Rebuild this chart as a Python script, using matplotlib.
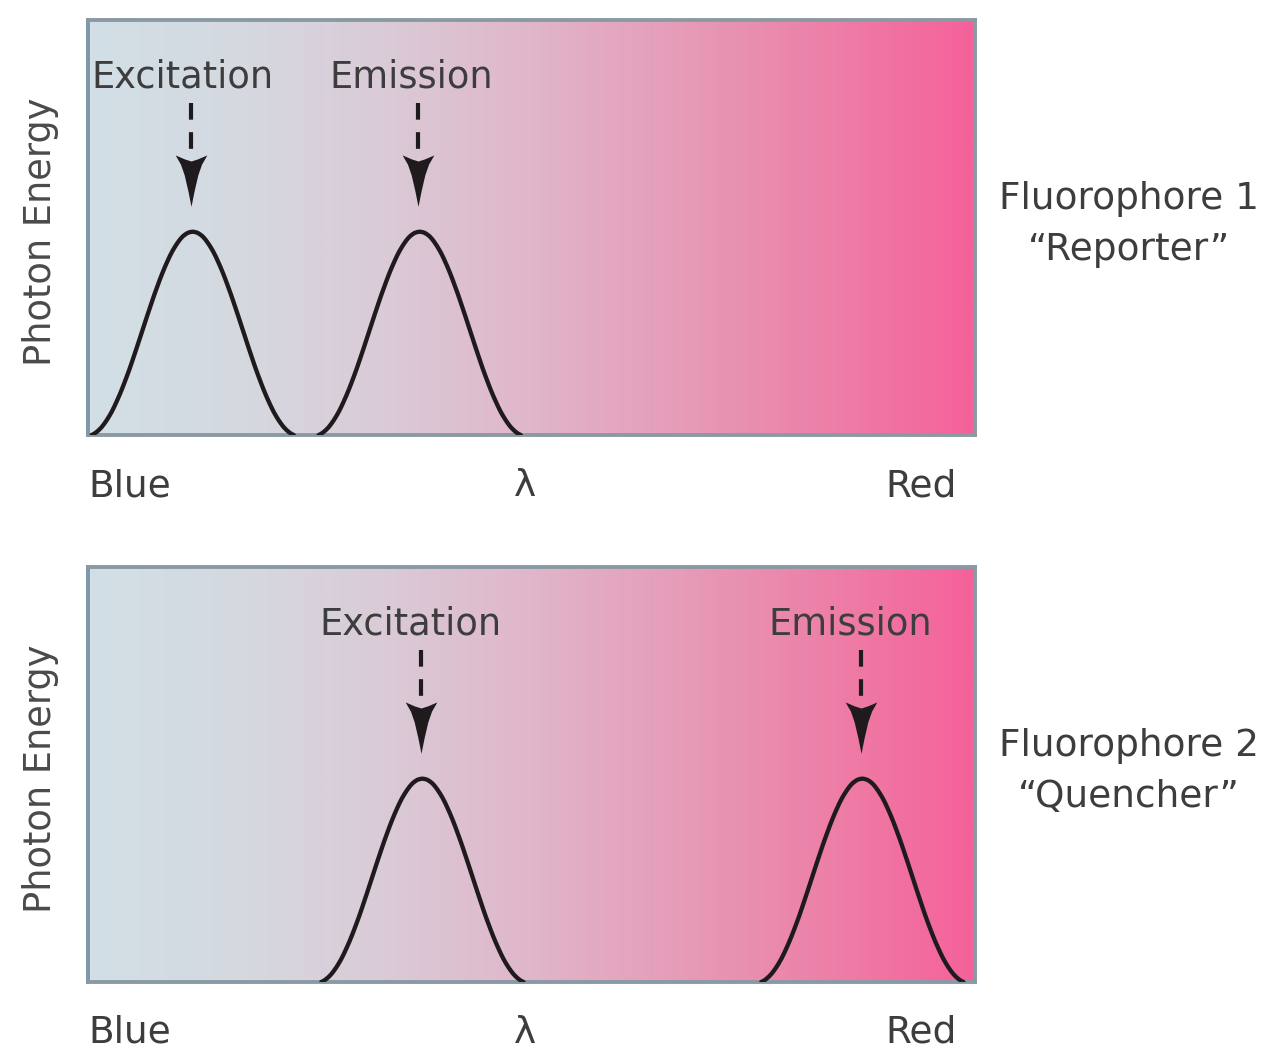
import numpy as np
import matplotlib
matplotlib.use("Agg")
import matplotlib.pyplot as plt
from matplotlib.colors import LinearSegmentedColormap
from matplotlib.path import Path

# --- datos (eje x: escala de longitud de onda 0-100) ---
panel_names = ["Fluorophore 1", "Fluorophore 2"]
panel_roles = ["\u201cReporter\u201d", "\u201cQuencher\u201d"]
peak_labels = ["Excitation", "Emission"]
peak_centers_top = [11.8, 37.4]
peak_centers_bottom = [37.7, 87.3]
label_x_top = [10.7, 36.4]
label_x_bottom = [36.3, 85.9]
peak_height = 0.49
peak_halfwidth = 11.4

# perfil de un pico (media forma, desde el centro hacia afuera)
profile_dx = [0.000, 0.025, 0.050, 0.075, 0.100, 0.125, 0.150, 0.175, 0.200, 0.225,
              0.250, 0.275, 0.300, 0.325, 0.350, 0.375, 0.400, 0.425, 0.450, 0.475,
              0.500, 0.525, 0.550, 0.575, 0.600, 0.625, 0.650, 0.675, 0.700, 0.725,
              0.750, 0.775, 0.800, 0.825, 0.850, 0.875, 0.900, 0.925, 0.950, 0.975, 1.000]
profile_h = [1.000, 0.998, 0.994, 0.986, 0.976, 0.962, 0.945, 0.926, 0.905, 0.881,
             0.854, 0.826, 0.796, 0.764, 0.730, 0.696, 0.660, 0.623, 0.586, 0.548,
             0.510, 0.472, 0.434, 0.397, 0.360, 0.324, 0.290, 0.257, 0.225, 0.195,
             0.167, 0.140, 0.115, 0.093, 0.073, 0.055, 0.039, 0.026, 0.015, 0.006, 0.000]

axis_labels = ["Blue", "\u03bb", "Red"]
y_label = "Photon Energy"

# colores del fondo degradado (azul grisaceo -> rosa)
grad_colors = ["#d2dfe6", "#d5d9e0", "#dacbd7", "#e0b6ca", "#e69cb8", "#ed80a8", "#f5619a"]

# forma de la punta de flecha (apunta hacia abajo)
head_verts = [(0, -1), (0.12, -0.4), (0.26, 0.2), (0.40, 0.6), (0.60, 0.95), (0.25, 0.8),
              (0, 0.72), (-0.25, 0.8), (-0.60, 0.95), (-0.40, 0.6), (-0.26, 0.2),
              (-0.12, -0.4), (0, -1)]
head_marker = Path(head_verts, closed=True)

text_color = "#3d3d3d"
line_color = "#1f1b1d"

cmap = LinearSegmentedColormap.from_list("bluered", grad_colors)
gradient = np.linspace(0, 1, 512).reshape(1, -1)

dx_full = [-d for d in profile_dx[::-1]] + profile_dx[1:]
h_full = profile_h[::-1] + profile_h[1:]

fig = plt.figure(figsize=(12.7, 10.49), dpi=100)
ax1 = fig.add_axes([0.0693, 0.5853, 0.6984, 0.3956])
ax2 = fig.add_axes([0.0693, 0.0639, 0.6984, 0.3956])

for ax, centers, lab_x, name, role in [(ax1, peak_centers_top, label_x_top, panel_names[0], panel_roles[0]),
                                       (ax2, peak_centers_bottom, label_x_bottom, panel_names[1], panel_roles[1])]:
    ax.set_xlim(0, 100)
    ax.set_ylim(0, 1)
    ax.imshow(gradient, cmap=cmap, extent=[0, 100, 0, 1], aspect="auto", zorder=0)
    ax.set_xticks([])
    ax.set_yticks([])
    for s in ["top", "right", "bottom"]:
        ax.spines[s].set_color("#8a9aa5")
        ax.spines[s].set_linewidth(2.8)
    ax.spines["left"].set_color("#7b98a8")
    ax.spines["left"].set_linewidth(2.8)

    for c, lx, lab in zip(centers, lab_x, peak_labels):
        xs = [c + d * peak_halfwidth for d in dx_full]
        ys = [h * peak_height for h in h_full]
        ax.plot(xs, ys, color=line_color, lw=3.1, solid_capstyle="round",
                solid_joinstyle="round", zorder=3)
        # flecha discontinua
        ax.plot([c - 0.2, c - 0.2], [0.80, 0.675], color=line_color, lw=3.0,
                dashes=(4.0, 3.0), zorder=3)
        ax.plot([c - 0.2], [0.615], marker=head_marker, markersize=38,
                color=line_color, markeredgewidth=0, zorder=4)
        ax.text(lx, 0.863, lab, ha="center", va="center", fontsize=26.5, color=text_color)

    ax.text(0.0, -0.147, axis_labels[0], transform=ax.transAxes, ha="left", va="baseline",
            fontsize=27, color=text_color)
    ax.text(0.493, -0.147, axis_labels[1], transform=ax.transAxes, ha="center", va="baseline",
            fontsize=27, color=text_color)
    ax.text(0.98, -0.147, axis_labels[2], transform=ax.transAxes, ha="right", va="baseline",
            fontsize=27, color=text_color)
    ax.text(-0.054, 0.49, y_label, transform=ax.transAxes, ha="center", va="center",
            rotation=90, fontsize=26.5, color="#4a4a4a")
    ax.text(1.174, 0.568, name, transform=ax.transAxes, ha="center", va="center",
            fontsize=27, color=text_color)
    ax.text(1.174, 0.446, role, transform=ax.transAxes, ha="center", va="center",
            fontsize=27, color=text_color)

fig.savefig("out.png", dpi=100, facecolor="white")
